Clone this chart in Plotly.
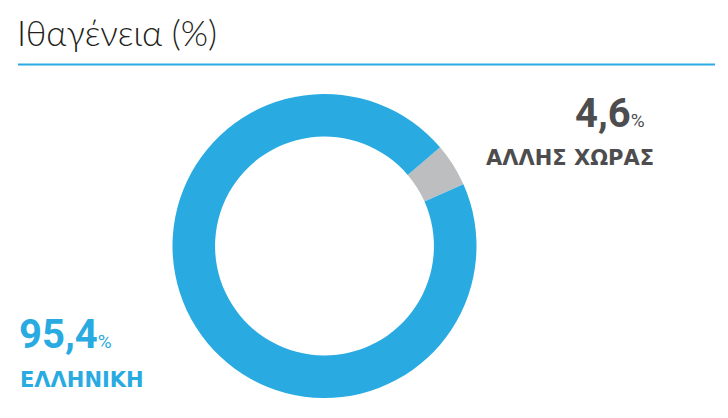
import plotly.graph_objects as go

title_text = "Ιθαγένεια (%)"
labels = ["ΑΛΛΗΣ ΧΩΡΑΣ", "ΕΛΛΗΝΙΚΗ"]
values = [4.6, 95.4]
colors = ["#bcbec0", "#29abe2"]
text_colors = ["#4d4d4f", "#29abe2"]

W, H = 728, 418
cx, cy, R = 324.5, 246, 152

def px(x):
    return x / W

def py(y):
    return 1 - y / H

fig = go.Figure()
fig.add_trace(go.Pie(
    labels=labels,
    values=values,
    hole=0.72,
    sort=False,
    direction="clockwise",
    rotation=49.5,
    marker=dict(colors=colors, line=dict(width=0)),
    textinfo="none",
    hoverinfo="label+percent",
    showlegend=False,
    domain=dict(x=[px(cx - R), px(cx + R)], y=[py(cy + R), py(cy - R)]),
))

def fmt(v):
    return f"{v:.1f}".replace(".", ",")

annotations = [
    dict(text=title_text, x=px(15), y=py(32), xanchor="left", yanchor="middle",
         font=dict(family="Lato", size=35, color="#231f20", weight=300)),
    dict(text=f"{fmt(values[0])}<span style='font-size:19px;font-weight:normal'>%</span>",
         x=px(647), y=py(114), xanchor="right", yanchor="middle",
         font=dict(family="Roboto", size=40, color=text_colors[0], weight="bold")),
    dict(text=labels[0], x=px(656), y=py(158), xanchor="right", yanchor="middle",
         font=dict(family="DejaVu Sans", size=21, color=text_colors[0], weight="bold")),
    dict(text=f"{fmt(values[1])}<span style='font-size:19px;font-weight:normal'>%</span>",
         x=px(17), y=py(334), xanchor="left", yanchor="middle",
         font=dict(family="Roboto", size=40, color=text_colors[1], weight="bold")),
    dict(text=labels[1], x=px(18), y=py(380), xanchor="left", yanchor="middle",
         font=dict(family="DejaVu Sans", size=21, color=text_colors[1], weight="bold")),
]
for a in annotations:
    a.update(xref="paper", yref="paper", showarrow=False)

fig.update_layout(
    width=W, height=H,
    margin=dict(l=0, r=0, t=0, b=0),
    paper_bgcolor="white", plot_bgcolor="white",
    annotations=annotations,
    shapes=[dict(type="line", xref="paper", yref="paper",
                 x0=px(18), x1=px(715), y0=py(64.5), y1=py(64.5),
                 line=dict(color="#29abe2", width=2))],
)

fig.write_html("out.html",
               config=dict(displayModeBar=False),
               post_script="document.body.style.margin='0';document.body.style.overflow='hidden';")
